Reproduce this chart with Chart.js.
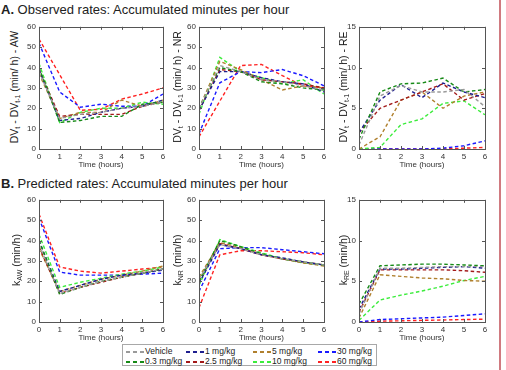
<!DOCTYPE html>
<html>
<head>
<meta charset="utf-8">
<script src="https://cdn.jsdelivr.net/npm/chart.js@4"></script>
<style>
  html, body { margin: 0; padding: 0; background: #fff; }
  body { width: 506px; height: 370px; position: relative; overflow: hidden;
         font-family: "Liberation Sans", Arial, sans-serif; color: #222; }
  .head { position: absolute; left: 1px; font-size: 13px; white-space: nowrap; }
  .head b { font-weight: bold; }
  canvas { position: absolute; }
  .ytitle { position: absolute; width: 140px; height: 14px; line-height: 14px; text-align: center;
            font-size: 10.5px; white-space: nowrap; transform: rotate(-90deg); }
  .ytitle sub { font-size: 7px; vertical-align: -2px; line-height: 0; }
  #divider { position: absolute; left: 499px; top: 0; width: 1.5px; height: 370px; background: #d07a80; }
  #legend { position: absolute; left: 122px; top: 344px; width: 255px; height: 22px;
            border: 1px solid #a8a8a8; box-sizing: border-box; font-size: 8.5px; }
  .item { position: absolute; height: 10px; line-height: 10px; white-space: nowrap; }
  .item span.ln { display: inline-block; width: 18px; height: 2px; vertical-align: middle; margin-right: 1px; }
</style>
</head>
<body>
<div class="head" style="top:2px"><b>A.</b> Observed rates: Accumulated minutes per hour</div>
<div class="head" style="top:176px"><b>B.</b> Predicted rates: Accumulated minutes per hour</div>
<div id="divider"></div>
<div id="legend"></div>

<script>
// 時間軸（時間）
const hours = [0, 1, 2, 3, 4, 5, 6];
const doses = ['Vehicle', '0.3 mg/kg', '1 mg/kg', '2.5 mg/kg', '5 mg/kg', '10 mg/kg', '30 mg/kg', '60 mg/kg'];
const doseColors = ['#9a9a9a', '#178a17', '#1f1f8f', '#a31a1a', '#b0802e', '#3cec3c', '#1a1aff', '#ff2222'];

// 観測値 (doses と同じ順)
const obsAW = [
  [38, 15, 17, 18, 20, 21, 23],
  [40, 13, 14, 16, 16, 22, 23],
  [39, 14, 15, 18, 20, 21, 24],
  [39, 16, 17, 17, 17, 21, 23],
  [37, 15, 18, 18, 24, 21, 24],
  [42, 13, 18, 20, 20, 23, 22],
  [52, 28, 20.5, 22, 21, 21, 27],
  [54, 36.5, 19, 19.5, 24.5, 27, 30]
];
const obsNR = [
  [20, 41, 38, 34, 33, 31, 29],
  [20, 40, 38, 33, 32, 30, 29],
  [19, 38, 38, 35, 33, 32, 28],
  [19, 39, 38, 34, 33, 32, 30],
  [20, 43, 39, 34, 29, 31, 30],
  [17, 45, 38, 35, 32, 34, 27],
  [7.5, 32.5, 38, 37.5, 39, 36, 31],
  [6, 23.5, 41, 41.5, 36, 31, 30]
];
const obsRE = [
  [0.5, 6.5, 7.8, 7, 7, 7.3, 5.2],
  [1.2, 7, 8, 8.1, 8.7, 7, 7.3],
  [2, 6, 7.9, 6.3, 8.1, 7, 6.3],
  [2, 5, 6, 7, 8, 6, 6.8],
  [0, 1.5, 6, 7, 5, 6.5, 7],
  [0, 0.2, 3, 3.7, 5.6, 5.9, 4.2],
  [0, 0, 0, 0, 0.1, 0.4, 1.0],
  [0, 0, 0, 0, 0, 0.1, 0.2]
];

// 予測値
const predAW = [
  [38, 14, 17, 20, 22, 24, 26],
  [40, 13.5, 17, 20, 22, 24, 26],
  [40, 15, 18, 21, 23, 24, 25.5],
  [37, 14, 17, 19.5, 22, 24, 26],
  [36, 15, 18, 21, 23, 25, 27.5],
  [43, 17, 19.5, 21.5, 23.5, 25, 27],
  [51, 24.5, 23, 23, 23, 23.5, 24],
  [53, 27, 25, 24, 25, 26, 27]
];
const predNR = [
  [21, 38, 36, 33, 31, 29.5, 28],
  [20, 40, 37, 33.5, 31, 29.5, 28],
  [19, 38, 36, 33, 31.5, 29.5, 28],
  [20, 38.5, 36, 33, 31, 29.5, 28],
  [22, 39, 36.5, 33, 31, 29, 27.5],
  [18, 40.5, 37, 34, 31, 29, 28],
  [15, 36, 36.5, 36.5, 35.5, 34.5, 33.5],
  [7, 33, 35, 35, 34.5, 34, 33]
];
const predRE = [
  [1.0, 6.6, 6.6, 6.7, 6.8, 6.8, 6.8],
  [2.2, 6.9, 7, 7.1, 7.1, 7, 6.9],
  [1.6, 6.5, 6.5, 6.6, 6.7, 6.8, 6.6],
  [1.2, 6.4, 6.4, 6.4, 6.4, 6.3, 6.1],
  [0.5, 5.8, 5.6, 5.4, 5.3, 5.1, 5.0],
  [0.2, 2.7, 3.3, 3.8, 4.4, 5.1, 5.6],
  [0, 0.3, 0.4, 0.5, 0.6, 0.8, 1.0],
  [0, 0.1, 0.15, 0.2, 0.25, 0.3, 0.35]
];

const xTicks = [0, 1, 2, 3, 4, 5, 6];
const yTicksRate = [0, 10, 20, 30, 40, 50, 60];
const yTicksRE = [0, 5, 10, 15];

const tickFont = { family: '"Liberation Sans", Arial, sans-serif', size: 8 };

// MATLAB風の枠と内向きの目盛り
const boxPlugin = {
  id: 'box',
  afterDraw(chart) {
    const { ctx, chartArea: a, scales } = chart;
    ctx.save();
    ctx.strokeStyle = '#555';
    ctx.lineWidth = 1;
    ctx.strokeRect(Math.round(a.left) + 0.5, Math.round(a.top) + 0.5,
                   Math.round(a.right - a.left), Math.round(a.bottom - a.top));
    ctx.beginPath();
    scales.x.ticks.forEach(t => {
      const px = Math.round(scales.x.getPixelForValue(t.value)) + 0.5;
      ctx.moveTo(px, a.bottom); ctx.lineTo(px, a.bottom - 3);
      ctx.moveTo(px, a.top); ctx.lineTo(px, a.top + 3);
    });
    scales.y.ticks.forEach(t => {
      const py = Math.round(scales.y.getPixelForValue(t.value)) + 0.5;
      ctx.moveTo(a.left, py); ctx.lineTo(a.left + 3, py);
      ctx.moveTo(a.right, py); ctx.lineTo(a.right - 3, py);
    });
    ctx.stroke();
    ctx.restore();
  }
};

function makePanel(series, yTicks, plot, titleHtml, titleX) {
  const yW = 17, xH = 21, padTop = 6, padRight = 7;
  const cv = document.createElement('canvas');
  const w = plot.w + yW + padRight, h = plot.h + padTop + xH;
  cv.width = w; cv.height = h;
  cv.style.left = (plot.x - yW) + 'px';
  cv.style.top = (plot.y - padTop) + 'px';
  cv.style.width = w + 'px'; cv.style.height = h + 'px';
  document.body.appendChild(cv);

  const t = document.createElement('div');
  t.className = 'ytitle';
  t.innerHTML = titleHtml;
  t.style.left = (titleX - 70) + 'px';
  t.style.top = (plot.y + plot.h / 2 - 7) + 'px';
  document.body.appendChild(t);

  new Chart(cv.getContext('2d'), {
    type: 'line',
    data: {
      datasets: series.map((vals, i) => ({
        label: doses[i],
        data: vals.map((v, j) => ({ x: hours[j], y: v })),
        borderColor: doseColors[i],
        borderWidth: 1.4,
        borderDash: [3.5, 2.5],
        pointRadius: 0,
        tension: 0,
        fill: false
      }))
    },
    options: {
      responsive: false,
      animation: false,
      layout: { padding: { top: padTop, right: padRight, left: 0, bottom: 0 } },
      plugins: { legend: { display: false }, tooltip: { enabled: false } },
      scales: {
        x: {
          type: 'linear', min: 0, max: 6,
          afterBuildTicks: s => { s.ticks = xTicks.map(v => ({ value: v })); },
          afterFit: s => { s.height = xH; },
          grid: { display: false, drawTicks: false, tickLength: 0 },
          border: { display: false },
          ticks: { font: tickFont, color: '#333', padding: 3, maxRotation: 0 },
          title: { display: true, text: 'Time (hours)', font: tickFont, color: '#333', padding: 0 }
        },
        y: {
          min: 0, max: yTicks[yTicks.length - 1],
          afterBuildTicks: s => { s.ticks = yTicks.map(v => ({ value: v })); },
          afterFit: s => { s.width = yW; },
          grid: { display: false, drawTicks: false, tickLength: 0 },
          border: { display: false },
          ticks: { font: tickFont, color: '#333', padding: 3 }
        }
      }
    },
    plugins: [boxPlugin]
  });
}

const dvTitle = 'DV<sub>t</sub> - DV<sub>t-1</sub> (min/ h) - ';
makePanel(obsAW, yTicksRate, { x: 39, y: 25, w: 124, h: 124 }, dvTitle + 'AW', 14);
makePanel(obsNR, yTicksRate, { x: 199, y: 25, w: 125, h: 124 }, dvTitle + 'NR', 177);
makePanel(obsRE, yTicksRE, { x: 359, y: 25, w: 126, h: 124 }, dvTitle + 'RE', 343);
makePanel(predAW, yTicksRate, { x: 39, y: 198, w: 124, h: 124 }, 'k<sub>AW</sub> (min/h)', 16);
makePanel(predNR, yTicksRate, { x: 199, y: 198, w: 125, h: 124 }, 'k<sub>NR</sub> (min/h)', 177);
makePanel(predRE, yTicksRE, { x: 359, y: 198, w: 126, h: 124 }, 'k<sub>RE</sub> (min/h)', 343);

// 凡例
const legendOrder = [0, 2, 4, 6, 1, 3, 5, 7];
const legendCols = [3, 63, 130, 195];
const legend = document.getElementById('legend');
legendOrder.forEach((di, k) => {
  const col = k % 4, row = Math.floor(k / 4);
  const it = document.createElement('div');
  it.className = 'item';
  it.style.left = legendCols[col] + 'px';
  it.style.top = (row * 10 + 1) + 'px';
  const c = doseColors[di];
  it.innerHTML = '<span class="ln" style="background:repeating-linear-gradient(to right,' + c +
    ' 0 4px, transparent 4px 7px)"></span>' + doses[di];
  legend.appendChild(it);
});
</script>
</body>
</html>
